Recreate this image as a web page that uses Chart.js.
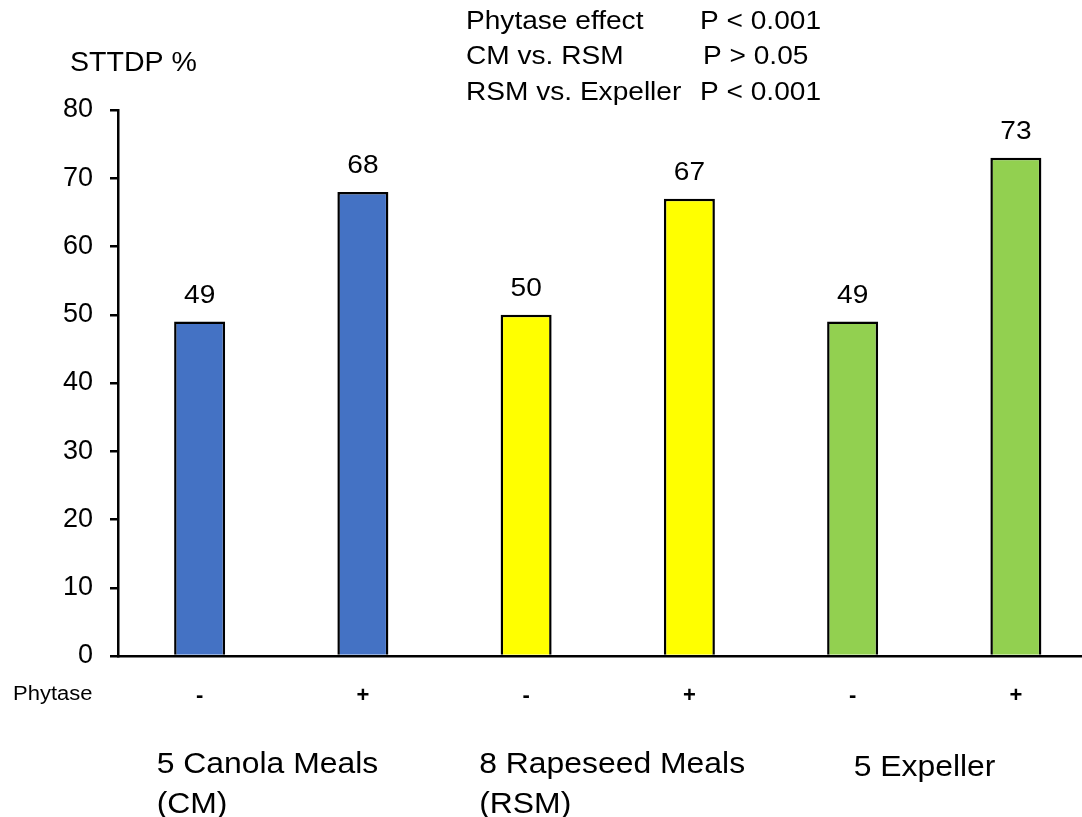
<!DOCTYPE html>
<html>
<head>
<meta charset="utf-8">
<title>STTDP of canola and rapeseed meals</title>
<script src="https://cdn.jsdelivr.net/npm/chart.js@4/dist/chart.umd.min.js"></script>
<style>
  html, body { margin: 0; padding: 0; background: #fff; overflow: hidden; }
  canvas { display: block; }
</style>
</head>
<body>
<canvas id="chart" width="1100" height="817"></canvas>
<script>
// Standardized total tract digestibility of P (%), without (-) and with (+) phytase
const phytase = ['-', '+', '-', '+', '-', '+'];
const sttdp = [49, 68, 50, 67, 49, 73];
const groupNames = [['5 Canola Meals', '(CM)'], ['8 Rapeseed Meals', '(RSM)'], ['5 Expeller']];
const groupOfBar = [0, 0, 1, 1, 2, 2];
const yTicks = [0, 10, 20, 30, 40, 50, 60, 70, 80];
const statTests = ['Phytase effect', 'CM vs. RSM', 'RSM vs. Expeller'];
const statP = ['P < 0.001', 'P > 0.05', 'P < 0.001'];

const palette = ['#4472C4', '#FFFF00', '#92D050'];
const FONT = "'Liberation Sans', Arial, Helvetica, sans-serif";

// Text with a slight horizontal stretch, as on the original slide
function wideText(ctx, text, x, y, size, opts) {
  const o = Object.assign({ align: 'left', sx: 1.1, weight: 'normal', color: '#000' }, opts || {});
  ctx.save();
  ctx.font = o.weight + ' ' + size + 'px ' + FONT;
  ctx.fillStyle = o.color;
  ctx.textBaseline = 'alphabetic';
  ctx.textAlign = o.align;
  ctx.translate(x, y);
  ctx.scale(o.sx, 1);
  ctx.fillText(text, 0, 0);
  ctx.restore();
}

const slideText = {
  id: 'slideText',
  afterDatasetsDraw(chart) {
    const ctx = chart.ctx;
    const xs = chart.scales.x;
    const meta = chart.getDatasetMeta(0);

    // value above each bar
    meta.data.forEach((bar, i) => {
      wideText(ctx, String(sttdp[i]), bar.x, bar.y - 19, 26, { align: 'center', sx: 1.08 });
    });

    // axis title
    wideText(ctx, 'STTDP %', 70, 71, 28, { sx: 1.02 });

    // row caption for the +/- labels
    wideText(ctx, 'Phytase', 13, 700, 20, { sx: 1.1 });

    // statistics block
    const pX = [700, 703, 700];
    statTests.forEach((t, i) => {
      const base = 28.5 + i * 35.8;
      wideText(ctx, t, 466, base, 26, { sx: 1.08 });
      wideText(ctx, statP[i], pX[i], base, 26, { sx: 1.08 });
    });

    // group captions under the axis, anchored to the first bar of each group
    const anchors = [{ dx: -43, y: 773 }, { dx: -47, y: 773 }, { dx: 1, y: 776 }];
    groupNames.forEach((lines, g) => {
      const first = groupOfBar.indexOf(g);
      const x0 = xs.getPixelForValue(first) + anchors[g].dx;
      lines.forEach((line, k) => {
        wideText(ctx, line, x0, anchors[g].y + k * 39.5, 29, { sx: 1.1 });
      });
    });
  }
};

new Chart(document.getElementById('chart'), {
  type: 'bar',
  data: {
    labels: phytase,
    datasets: [{
      data: sttdp,
      backgroundColor: groupOfBar.map(g => palette[g]),
      borderColor: '#000',
      borderWidth: 2.5,
      borderSkipped: 'start',
      barPercentage: 0.3125,
      categoryPercentage: 1
    }]
  },
  options: {
    responsive: false,
    animation: false,
    events: [],
    layout: { padding: { top: 110, right: 2.5, left: 0, bottom: 0 } },
    plugins: { legend: { display: false }, tooltip: { enabled: false } },
    scales: {
      x: {
        grid: { display: false },
        border: { display: true, color: '#000', width: 2.5 },
        ticks: {
          color: '#000',
          padding: 19,
          font: { family: FONT, size: 22, weight: 'bold' }
        },
        afterFit(scale) { scale.height = 161; }
      },
      y: {
        min: 0,
        max: 80,
        afterBuildTicks(scale) { scale.ticks = yTicks.map(v => ({ value: v })); },
        grid: { drawOnChartArea: false, drawTicks: true, tickLength: 8, color: '#000', lineWidth: 2.5 },
        border: { display: true, color: '#000', width: 2.5 },
        ticks: {
          color: '#000',
          padding: 17,
          font: { family: FONT, size: 27 }
        },
        afterFit(scale) { scale.width = 118; }
      }
    }
  },
  plugins: [slideText]
});
</script>
</body>
</html>
